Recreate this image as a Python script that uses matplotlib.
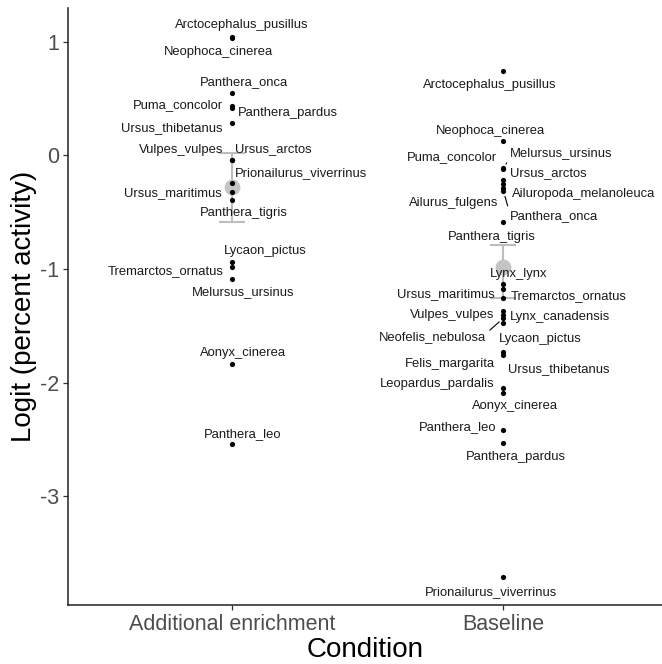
import matplotlib
matplotlib.use("Agg")
import matplotlib.pyplot as plt

plt.rcParams['font.family'] = ['Liberation Sans', 'DejaVu Sans']
plt.rcParams['axes.unicode_minus'] = False

# categorias do eixo x
condicoes = ["Additional enrichment", "Baseline"]

# especies e valores (logit) - Additional enrichment
especies_add = [
    "Arctocephalus_pusillus", "Neophoca_cinerea", "Panthera_onca", "Puma_concolor",
    "Panthera_pardus", "Ursus_thibetanus", "Vulpes_vulpes", "Ursus_arctos",
    "Prionailurus_viverrinus", "Ursus_maritimus", "Panthera_tigris", "Lycaon_pictus",
    "Tremarctos_ornatus", "Melursus_ursinus", "Aonyx_cinerea", "Panthera_leo",
]
logit_add = [1.044, 1.032, 0.551, 0.438, 0.412, 0.282, -0.037, -0.041,
             -0.241, -0.32, -0.393, -0.936, -0.98, -1.088, -1.839, -2.54]

# especies e valores (logit) - Baseline
especies_base = [
    "Arctocephalus_pusillus", "Neophoca_cinerea", "Puma_concolor", "Melursus_ursinus",
    "Ursus_arctos", "Ailuropoda_melanoleuca", "Ailurus_fulgens", "Panthera_onca",
    "Panthera_tigris", "Lynx_lynx", "Ursus_maritimus", "Tremarctos_ornatus",
    "Vulpes_vulpes", "Lynx_canadensis", "Neofelis_nebulosa", "Lycaon_pictus",
    "Felis_margarita", "Ursus_thibetanus", "Leopardus_pardalis", "Aonyx_cinerea",
    "Panthera_leo", "Panthera_pardus", "Prionailurus_viverrinus",
]
logit_base = [0.744, 0.126, -0.114, -0.12, -0.217, -0.253, -0.288, -0.314,
              -0.584, -1.132, -1.176, -1.256, -1.372, -1.407, -1.433, -1.471,
              -1.728, -1.757, -2.05, -2.089, -2.417, -2.534, -3.711]

# media e intervalo por condicao
media = [-0.276, -0.98]
ic_sup = [0.023, -0.789]
ic_inf = [-0.584, -1.258]

# deslocamento dos rotulos (pixels) - layout tipo ggrepel
desloc_add = [(10, 12), (-13, -14), (12, 11), (-54, 0), (56, -5), (-60, -5),
              (-51, 10), (42, 11), (69, 10), (-59, -1), (12, -13), (33, 11),
              (-66, -4), (11, -13), (11, 11), (11, 10)]
desloc_base = [(-14, -14), (-13, 10), (-51, 11), (58, 16), (45, 7), (80, -10),
               (-50, -15), (51, -25), (-12, -15), (15, 10), (-58, -5), (65, 2),
               (-51, -4), (57, -2), (-71, -19), (37, -16), (-53, -12), (55, -14),
               (-66, 4), (12, -13), (-46, 3), (12, -14), (-12, -15)]
# rotulos com segmento (ponto relativo do texto de onde sai a linha)
com_linha = {"Melursus_ursinus": (0, 0.2), "Panthera_onca": (0, 0.6),
             "Neofelis_nebulosa": (1, 0.8)}

fig = plt.figure(figsize=(6.62, 6.64), dpi=100)
ax = fig.add_axes([68 / 662, 59.5 / 664, 594 / 662, 596.5 / 664])

# media + barras de erro (cinza)
for i in range(len(condicoes)):
    ax.errorbar(i, media[i], yerr=[[media[i] - ic_inf[i]], [ic_sup[i] - media[i]]],
                fmt='none', ecolor='#bdbdbd', elinewidth=1.5, capsize=9.5,
                capthick=1.5, zorder=1)
ax.scatter(range(len(condicoes)), media, s=130, color='#c4c4c4', zorder=2,
           linewidths=0)

# pontos por especie
for i, (nomes, vals, desl) in enumerate([(especies_add, logit_add, desloc_add),
                                          (especies_base, logit_base, desloc_base)]):
    ax.scatter([i] * len(vals), vals, s=14, color='black', zorder=3, linewidths=0)
    for nome, v, (dx, dy) in zip(nomes, vals, desl):
        props = None
        if i == 1 and nome in com_linha:
            props = dict(arrowstyle='-', color='black', lw=0.8, shrinkA=1, shrinkB=4,
                         relpos=com_linha[nome])
        ax.annotate(nome, (i, v), xytext=(dx, dy), textcoords='offset pixels',
                    ha='center', va='center', fontsize=9.4, color='#1a1a1a',
                    arrowprops=props, zorder=4)

ax.set_xlim(-0.603, 1.584)
ax.set_ylim(-3.952, 1.296)
ax.set_xticks(range(len(condicoes)))
ax.set_xticklabels(condicoes)
ax.set_yticks([-3, -2, -1, 0, 1])
ax.tick_params(axis='both', labelsize=15.5, labelcolor='#4d4d4d', color='#333333',
               length=3.5, width=0.9, pad=3)
ax.set_xlabel('Condition', fontsize=20, labelpad=2)
ax.set_ylabel('Logit (percent activity)', fontsize=20, labelpad=2)
for lado in ['top', 'right']:
    ax.spines[lado].set_visible(False)
for lado in ['left', 'bottom']:
    ax.spines[lado].set_linewidth(1.1)
    ax.spines[lado].set_color('#222222')

plt.savefig('out.png', dpi=100)
